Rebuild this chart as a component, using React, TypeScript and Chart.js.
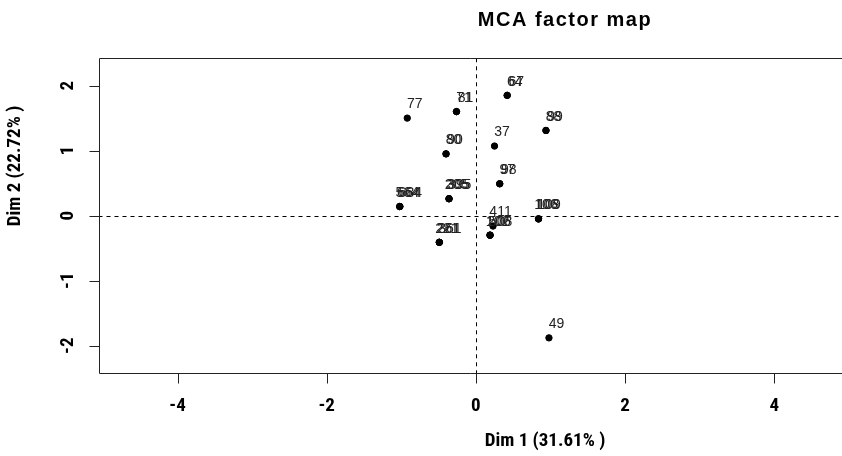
import React, { useEffect, useRef } from "react";
import { Chart, registerables } from "chart.js";

Chart.register(...registerables);

const title = "MCA factor map";
const xTitle = "Dim 1 (31.61% )";
const yTitle = "Dim 2 (22.72% )";
const xTicks = [-4, -2, 0, 2, 4];
const yTicks = [-2, -1, 0, 1, 2];
const xRange = [-5.06, 4.853];
const yRange = [-2.425, 2.42];

const indLabels = [
  "64", "67", "71", "81", "77", "88", "99", "37", "80", "90",
  "97", "98", "205", "305", "395", "564", "664", "684", "411", "102",
  "206", "508", "221", "261", "361", "106", "108", "109", "49",
];
const dim1 = [
  0.42, 0.42, -0.26, -0.26, -0.92, 0.94, 0.94, 0.25, -0.4, -0.4,
  0.32, 0.32, -0.36, -0.36, -0.36, -1.02, -1.02, -1.02, 0.23, 0.19,
  0.19, 0.19, -0.49, -0.49, -0.49, 0.84, 0.84, 0.84, 0.98,
];
const dim2 = [
  1.85, 1.85, 1.6, 1.6, 1.5, 1.31, 1.31, 1.07, 0.95, 0.95,
  0.49, 0.49, 0.26, 0.26, 0.26, 0.14, 0.14, 0.14, -0.16, -0.3,
  -0.3, -0.3, -0.41, -0.41, -0.41, -0.05, -0.05, -0.05, -1.88,
];

const AXIS_FONT = '"Liberation Sans Narrow", "Roboto Condensed", Roboto, sans-serif';

const decorPlugin = {
  id: "decor",
  beforeDatasetsDraw(chart: any) {
    const { ctx, chartArea, scales } = chart;
    const x0 = scales.x.getPixelForValue(0);
    const y0 = scales.y.getPixelForValue(0);
    ctx.save();
    ctx.strokeStyle = "#000";
    ctx.lineWidth = 1;
    ctx.setLineDash([4, 4]);
    ctx.beginPath();
    ctx.moveTo(Math.round(x0) + 0.5, chartArea.top);
    ctx.lineTo(Math.round(x0) + 0.5, chartArea.bottom);
    ctx.moveTo(chartArea.left, Math.round(y0) + 0.5);
    ctx.lineTo(chart.width, Math.round(y0) + 0.5);
    ctx.stroke();
    ctx.restore();
  },
  afterDatasetsDraw(chart: any) {
    const { ctx, chartArea, scales } = chart;
    const { left, top, bottom } = chartArea;
    const W = chart.width;
    ctx.save();
    // point labels (overlapping ones get a slight horizontal jitter, as in the source)
    ctx.fillStyle = "#222";
    ctx.font = '14px "Liberation Sans", Arial, sans-serif';
    ctx.textAlign = "center";
    ctx.textBaseline = "middle";
    const seen: Record<string, number> = {};
    for (let i = 0; i < indLabels.length; i++) {
      const key = dim1[i] + "," + dim2[i];
      const k = seen[key] || 0;
      seen[key] = k + 1;
      const px = scales.x.getPixelForValue(dim1[i]);
      const py = scales.y.getPixelForValue(dim2[i]);
      ctx.fillText(indLabels[i], px + 7.5 + k * 1.5, py - 13.5);
    }
    // frame
    ctx.strokeStyle = "#222";
    ctx.lineWidth = 1;
    ctx.setLineDash([]);
    ctx.beginPath();
    const L = Math.round(left) + 0.5;
    const T = Math.round(top) + 0.5;
    const B = Math.round(bottom) + 0.5;
    ctx.moveTo(W, T);
    ctx.lineTo(L, T);
    ctx.lineTo(L, B);
    ctx.lineTo(W, B);
    for (const v of xTicks) {
      const px = Math.round(scales.x.getPixelForValue(v)) + 0.5;
      ctx.moveTo(px, B);
      ctx.lineTo(px, B + 10);
    }
    for (const v of yTicks) {
      const py = Math.round(scales.y.getPixelForValue(v)) + 0.5;
      ctx.moveTo(L, py);
      ctx.lineTo(L - 10, py);
    }
    ctx.stroke();
    // tick labels
    ctx.fillStyle = "#000";
    ctx.font = "bold 19px " + AXIS_FONT;
    ctx.textAlign = "center";
    ctx.textBaseline = "middle";
    for (const v of xTicks) {
      const px = scales.x.getPixelForValue(v);
      ctx.fillText(String(v), px, 406);
    }
    for (const v of yTicks) {
      const py = scales.y.getPixelForValue(v);
      ctx.save();
      ctx.translate(68, py);
      ctx.rotate(-Math.PI / 2);
      ctx.fillText(String(v), 0, 0);
      ctx.restore();
    }
    // axis titles
    ctx.fillText(xTitle, 545, 441);
    ctx.save();
    ctx.translate(15, 166);
    ctx.rotate(-Math.PI / 2);
    ctx.fillText(yTitle, 0, 0);
    ctx.restore();
    // main title
    ctx.font = 'bold 20px "Liberation Sans", Arial, sans-serif';
    (ctx as any).letterSpacing = "1.5px";
    ctx.fillText(title, 565, 20);
    ctx.restore();
  },
};

export default function App() {
  const ref = useRef<HTMLCanvasElement | null>(null);
  useEffect(() => {
    if (!ref.current) return;
    const points = dim1.map((x, i) => ({ x, y: dim2[i] }));
    const chart = new Chart(ref.current, {
      type: "scatter",
      data: {
        datasets: [
          {
            data: points,
            backgroundColor: "#000",
            borderColor: "#000",
            pointRadius: 3.2,
            pointHoverRadius: 3.2,
          },
        ],
      },
      options: {
        animation: false,
        responsive: false,
        events: [],
        layout: { padding: { left: 98.5, top: 58.3, right: 0, bottom: 82.7 } },
        plugins: { legend: { display: false }, tooltip: { enabled: false } },
        scales: {
          x: { type: "linear", display: false, min: xRange[0], max: xRange[1] },
          y: { type: "linear", display: false, min: yRange[0], max: yRange[1] },
        },
      },
      plugins: [decorPlugin],
    });
    return () => chart.destroy();
  }, []);
  return (
    <div style={{ position: "absolute", left: 0, top: 0, width: 842, height: 456, background: "#fff" }}>
      <canvas ref={ref} width={842} height={456} style={{ display: "block", width: 842, height: 456 }} />
    </div>
  );
}
